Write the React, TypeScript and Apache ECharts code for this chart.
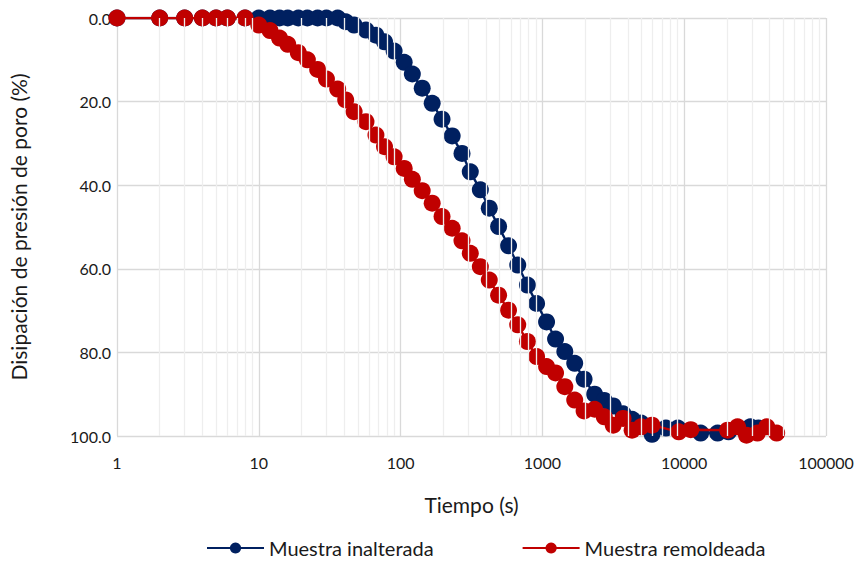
import React, { useEffect, useRef } from "react";
import * as echarts from "echarts";

const blueTimes = [1, 2, 3, 4, 5, 6, 8, 10, 12, 14, 16, 19, 22, 26, 30, 36, 41, 47, 57, 67, 77, 90, 106, 121, 142, 167, 196, 231, 271, 310, 365, 422, 491, 577, 670, 784, 910, 1070, 1238, 1439, 1690, 1968, 2335, 2730, 3158, 3707, 4290, 4965, 5930, 7430, 9020, 13060, 17200, 20560, 29310, 33370];
const blueValues = [0, 0, 0, 0, 0, 0, 0, 0, 0, 0, 0, 0, 0, 0, 0, 0, 0.9, 1.7, 2.9, 4.1, 5.7, 7.9, 10.6, 13.4, 16.8, 20.4, 24.2, 28.2, 32.4, 36.8, 41.1, 45.5, 49.9, 54.5, 59.1, 63.9, 68.3, 72.7, 76.8, 79.8, 82.6, 86.4, 90.0, 91.5, 92.8, 94.7, 96.0, 96.9, 99.6, 98.1, 98.1, 99.3, 99.3, 99.0, 97.8, 98.1];

const redTimes = [1, 2, 3, 4, 5, 6, 8, 10, 12, 14, 16, 19, 22, 26, 30, 36, 41, 47, 57, 67, 77, 90, 106, 121, 142, 167, 196, 231, 271, 310, 365, 422, 491, 577, 670, 784, 910, 1070, 1238, 1439, 1690, 1968, 2335, 2730, 3158, 3707, 4290, 4965, 5930, 9160, 11120, 20230, 23770, 27500, 32830, 38220, 44900];
const redValues = [0, 0, 0, 0, 0, 0, 0, 1.7, 3.0, 4.8, 6.3, 8.3, 10.0, 12.3, 14.6, 17.0, 19.6, 22.4, 24.8, 28.0, 30.8, 33.2, 36.0, 38.6, 41.3, 44.3, 47.5, 50.3, 53.3, 56.3, 59.5, 62.7, 66.3, 69.9, 73.4, 77.4, 81.0, 83.4, 84.9, 88.2, 91.4, 94.0, 93.6, 95.4, 97.4, 95.8, 98.6, 97.8, 97.4, 99.0, 98.5, 98.6, 97.8, 99.8, 99.3, 97.8, 99.3];

const seriesNames = ["Muestra inalterada", "Muestra remoldeada"];
const xTitle = "Tiempo (s)";
const yTitle = "Disipación de presión de poro (%)";

const FONT = "Lato, 'Open Sans', sans-serif";

export default function App() {
  const ref = useRef<HTMLDivElement>(null);
  useEffect(() => {
    if (!ref.current) return;
    const chart = echarts.init(ref.current, undefined, { renderer: "svg" });
    const minor: any[] = [];
    for (let d = 1; d < 100000; d *= 10) {
      for (let k = 2; k <= 9; k++) minor.push({ xAxis: d * k });
    }
    chart.setOption({
      animation: false,
      textStyle: { fontFamily: FONT },
      grid: { left: 113, right: 32, top: 18, bottom: 125, containLabel: false },
      xAxis: {
        type: "log",
        logBase: 10,
        min: 1,
        max: 100000,
        name: xTitle,
        nameLocation: "middle",
        nameGap: 58,
        nameTextStyle: { fontSize: 21, color: "#1a1a1a", fontFamily: FONT },
        axisLine: { show: false },
        axisTick: { show: false },
        axisLabel: {
          fontSize: 16,
          color: "#1a1a1a",
          margin: 18,
          fontFamily: FONT,
          formatter: (v: number) => String(Math.round(v)),
        },
        splitLine: { show: true, lineStyle: { color: "#d9d9d9", width: 1.3 } },
      },
      yAxis: {
        type: "value",
        inverse: true,
        min: 0,
        max: 100,
        interval: 20,
        name: yTitle,
        nameLocation: "middle",
        nameGap: 88,
        nameTextStyle: { fontSize: 21, color: "#1a1a1a", fontFamily: FONT },
        axisLine: { show: false },
        axisTick: { show: false },
        axisLabel: {
          fontSize: 16,
          color: "#1a1a1a",
          margin: 6,
          fontFamily: FONT,
          formatter: (v: number) => v.toFixed(1),
        },
        splitLine: { show: true, lineStyle: { color: "#d9d9d9", width: 1.3 } },
      },
      legend: {
        top: 533,
        left: 201,
        itemWidth: 57,
        itemHeight: 14,
        itemGap: 88,
        textStyle: { fontSize: 20, color: "#1a1a1a", fontFamily: FONT },
        data: seriesNames,
      },
      series: [
        {
          type: "line",
          name: "minor",
          data: [],
          silent: true,
          z: 0,
          markLine: {
            silent: true,
            symbol: "none",
            label: { show: false },
            lineStyle: { color: "#eeeeee", width: 1.3, type: "solid" },
            emphasis: { disabled: true },
            data: minor,
          },
        },
        {
          type: "line",
          name: seriesNames[0],
          data: blueTimes.map((t, i) => [t, blueValues[i]]),
          symbol: "circle",
          symbolSize: 17,
          z: 3,
          itemStyle: { color: "#002060" },
          lineStyle: { color: "#002060", width: 2.4 },
        },
        {
          type: "line",
          name: seriesNames[1],
          data: redTimes.map((t, i) => [t, redValues[i]]),
          symbol: "circle",
          symbolSize: 17,
          z: 4,
          itemStyle: { color: "#C00000" },
          lineStyle: { color: "#C00000", width: 2.4 },
        },
      ],
    });
    return () => chart.dispose();
  }, []);
  return (
    <div
      ref={ref}
      style={{ position: "absolute", left: 0, top: 0, width: 858, height: 561 }}
    />
  );
}
